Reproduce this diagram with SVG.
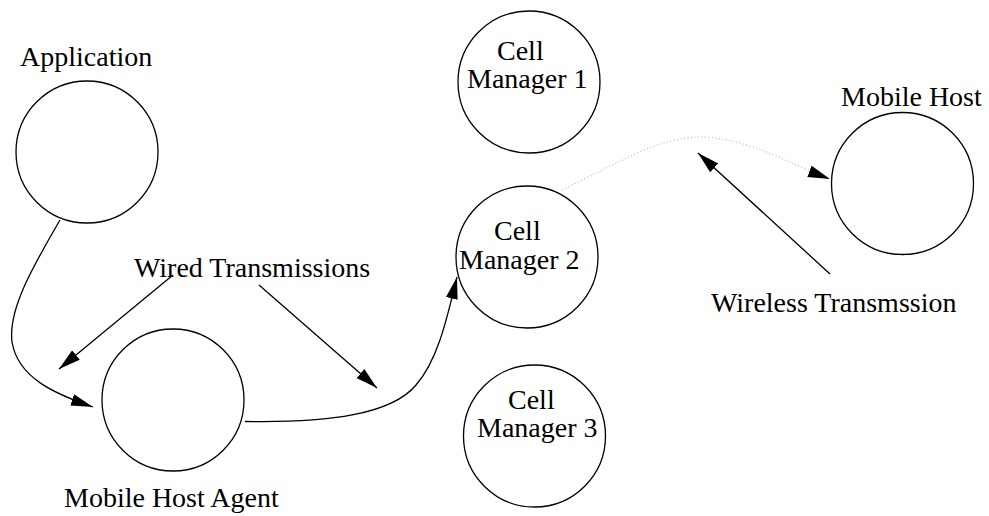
<svg xmlns="http://www.w3.org/2000/svg" width="989" height="516" viewBox="0 0 989 516">
  <style>
    .node { fill: none; stroke: #000; stroke-width: 1.3; }
    .lbl { font-family: "Liberation Serif", "Times New Roman", serif; font-size: 28px; fill: #000; }
    .wire { fill: none; stroke: #000; stroke-width: 1.3; }
    .air { fill: none; stroke: #b8b8b8; stroke-width: 1.2; stroke-dasharray: 1 2.5; }
  </style>
  <defs>
    <marker id="head" markerUnits="userSpaceOnUse" markerWidth="24" markerHeight="14" refX="22" refY="6" orient="auto">
      <path d="M0,0 L22,6 L0,12 z" fill="#000"/>
    </marker>
  </defs>
  <rect width="989" height="516" fill="#fff"/>

  <g id="connectors">
    <!-- Application to agent -->
    <path class="wire" d="M60,220 C32,268 8,310 12,342 C18,378 55,394 93,407" marker-end="url(#head)"/>
    <!-- agent to cell manager 2 -->
    <path class="wire" d="M245,421.5 C330,423 392,414 416,385 C438,360 447,318 457,277" marker-end="url(#head)"/>
    <!-- label pointers -->
    <path class="wire" d="M173,275 L59,369" marker-end="url(#head)"/>
    <path class="wire" d="M259,285 L377,388" marker-end="url(#head)"/>
    <path class="wire" d="M830,274 L698,153" marker-end="url(#head)"/>
    <!-- wireless link -->
    <path class="air" d="M562,190 C620,162 660,136 703,137 C750,139 790,164 830,179" marker-end="url(#head)"/>
  </g>

  <g id="application">
    <circle class="node" cx="87" cy="152" r="71"/>
    <text class="lbl" x="20" y="66">Application</text>
  </g>

  <g id="mobile-host-agent">
    <circle class="node" cx="173" cy="400" r="71"/>
    <text class="lbl" x="64" y="507">Mobile Host Agent</text>
  </g>

  <g id="cell-manager-1">
    <circle class="node" cx="529" cy="82" r="71"/>
    <text class="lbl" x="497" y="60">Cell</text>
    <text class="lbl" x="467" y="88">Manager 1</text>
  </g>

  <g id="cell-manager-2">
    <circle class="node" cx="527" cy="257" r="71"/>
    <text class="lbl" x="494" y="240">Cell</text>
    <text class="lbl" x="459" y="269">Manager 2</text>
  </g>

  <g id="cell-manager-3">
    <circle class="node" cx="534.5" cy="436" r="71"/>
    <text class="lbl" x="508" y="409">Cell</text>
    <text class="lbl" x="477" y="437">Manager 3</text>
  </g>

  <g id="mobile-host">
    <circle class="node" cx="902.5" cy="183.5" r="71"/>
    <text class="lbl" x="841" y="106">Mobile Host</text>
  </g>

  <g id="labels">
    <text class="lbl" x="134" y="277">Wired Transmissions</text>
    <text class="lbl" x="711" y="312">Wireless Transmssion</text>
  </g>
</svg>
